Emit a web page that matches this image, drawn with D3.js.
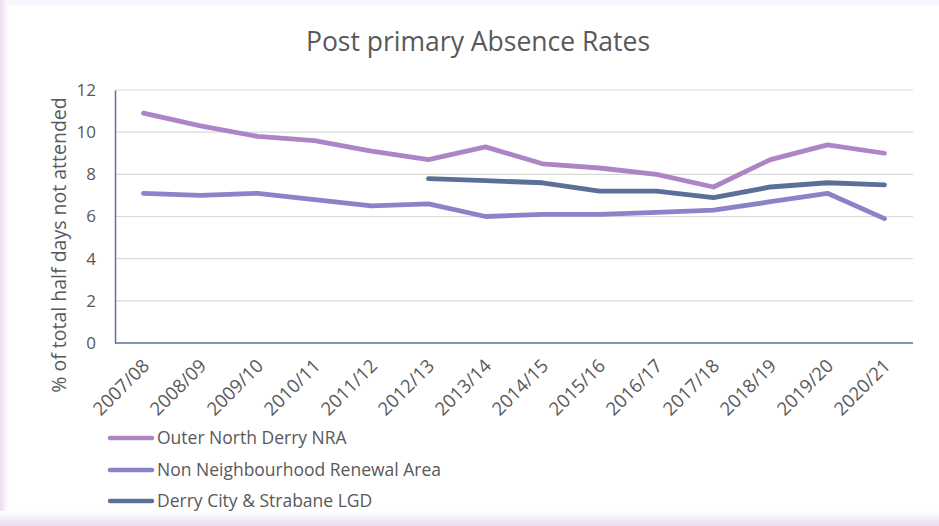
<!DOCTYPE html>
<html><head><meta charset="utf-8">
<script src="https://cdn.jsdelivr.net/npm/d3@7"></script>
<style>
html,body{margin:0;padding:0;background:#fff;}
svg{display:block;}
</style></head>
<body>
<script>
const categories = ["2007/08","2008/09","2009/10","2010/11","2011/12","2012/13","2013/14","2014/15","2015/16","2016/17","2017/18","2018/19","2019/20","2020/21"];
const outerNorth = [10.9,10.3,9.8,9.6,9.1,8.7,9.3,8.5,8.3,8.0,7.4,8.7,9.4,9.0];
const nonNRA = [7.1,7.0,7.1,6.8,6.5,6.6,6.0,6.1,6.1,6.2,6.3,6.7,7.1,5.9];
const derryLGD = [null,null,null,null,null,7.8,7.7,7.6,7.2,7.2,6.9,7.4,7.6,7.5];
const yTicks = [0,2,4,6,8,10,12];
const seriesNames = ["Outer North Derry NRA","Non Neighbourhood Renewal Area","Derry City & Strabane LGD"];
const seriesColors = ["#AD85C6","#8983C9","#5B6F98"];
const series = [outerNorth, nonNRA, derryLGD];

const W = 939, H = 526;
const svg = d3.select("body").append("svg").attr("width", W).attr("height", H);

// frame
const defs = svg.append("defs");
const gb = defs.append("linearGradient").attr("id","gb").attr("x1",0).attr("y1",0).attr("x2",0).attr("y2",1);
gb.append("stop").attr("offset","0").attr("stop-color","#ffffff");
gb.append("stop").attr("offset","1").attr("stop-color","#E8DCF2");
const gl = defs.append("linearGradient").attr("id","gl").attr("x1",1).attr("y1",0).attr("x2",0).attr("y2",0);
gl.append("stop").attr("offset","0").attr("stop-color","#ffffff");
gl.append("stop").attr("offset","1").attr("stop-color","#E8DCF2");
svg.append("rect").attr("x",0).attr("y",0).attr("width",W).attr("height",5).attr("fill","#F7F6FC");
svg.append("rect").attr("x",0).attr("y",0).attr("width",9).attr("height",H).attr("fill","url(#gl)");
svg.append("rect").attr("x",0).attr("y",511).attr("width",W).attr("height",15).attr("fill","url(#gb)");

const mLeft = 115, mRight = 913, mTop = 90, mBottom = 343;
const x = d3.scaleBand().domain(categories).range([mLeft, mRight]);
const y = d3.scaleLinear().domain([0, 12]).range([mBottom, mTop]);
const textColor = "#595959";

// grid
svg.append("g").selectAll("line").data(yTicks.filter(t => t > 0)).join("line")
  .attr("x1", mLeft).attr("x2", mRight)
  .attr("y1", d => y(d)).attr("y2", d => y(d))
  .attr("stroke", "#D9D9D9").attr("stroke-width", 1.2);

// y axis
const yAxis = svg.append("g").attr("transform", `translate(${mLeft},0)`)
  .call(d3.axisLeft(y).tickValues(yTicks).tickSize(0).tickPadding(19));
yAxis.select(".domain").attr("stroke", "#5B6F98").attr("stroke-width", 1.5);
yAxis.selectAll("text").attr("fill", textColor).style("font-family", "'Open Sans', sans-serif").style("font-size", "17px");

// x axis
const xAxis = svg.append("g").attr("transform", `translate(0,${mBottom})`)
  .call(d3.axisBottom(x).tickSize(0).tickPadding(0));
xAxis.select(".domain").attr("stroke", "#5B6F98").attr("stroke-width", 1.5).attr("d", `M${mLeft},0H${mRight}`);
xAxis.selectAll("text")
  .attr("fill", textColor)
  .style("font-family", "'Open Sans', sans-serif").style("font-size", "18.5px")
  .attr("text-anchor", "end")
  .attr("y", 0).attr("dy", 0)
  .attr("transform", "translate(7,24) rotate(-45)");

// y title
svg.append("text")
  .attr("transform", `translate(66,245) rotate(-90)`)
  .attr("text-anchor", "middle")
  .attr("fill", textColor)
  .style("font-family", "'Open Sans', sans-serif").style("font-size", "19.5px")
  .text("% of total half days not attended");

// title
svg.append("text").attr("x", 478).attr("y", 51).attr("text-anchor", "middle")
  .attr("fill", textColor)
  .style("font-family", "'Open Sans', sans-serif").style("font-size", "26.5px")
  .text("Post primary Absence Rates");

// lines
const line = d3.line()
  .defined(d => d != null)
  .x((d, i) => x(categories[i]) + x.bandwidth() / 2)
  .y(d => y(d));
series.forEach((s, i) => {
  svg.append("path").datum(s)
    .attr("d", line)
    .attr("fill", "none")
    .attr("stroke", seriesColors[i])
    .attr("stroke-width", 4.8)
    .attr("stroke-linejoin", "round")
    .attr("stroke-linecap", "round");
});

// legend
const legendY = [438, 470, 501];
seriesNames.forEach((n, i) => {
  const g = svg.append("g").attr("transform", `translate(0,${legendY[i]})`);
  g.append("line").attr("x1", 110).attr("x2", 152).attr("y1", 0).attr("y2", 0)
    .attr("stroke", seriesColors[i]).attr("stroke-width", 4.5).attr("stroke-linecap", "round");
  g.append("text").attr("x", 157).attr("dy", "0.35em")
    .attr("fill", textColor)
    .style("font-family", "'Open Sans', sans-serif").style("font-size", "17.5px")
    .text(n);
});
</script>
</body></html>
